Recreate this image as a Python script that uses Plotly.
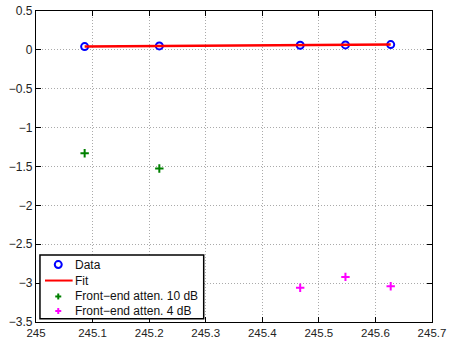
import plotly.graph_objects as go

# Measured frequencies (MHz) and responses (dB)
freq_data = [245.086, 245.218, 245.467, 245.547, 245.627]
resp_data = [0.042, 0.051, 0.059, 0.064, 0.068]

# Linear fit evaluated at the measured frequencies
fit_values = [0.044, 0.050, 0.061, 0.064, 0.068]

# Front-end attenuation sets
freq_att10 = [245.086, 245.218]
resp_att10 = [-1.33, -1.525]
freq_att4 = [245.467, 245.547, 245.627]
resp_att4 = [-3.06, -2.92, -3.04]

x_ticks = [245, 245.1, 245.2, 245.3, 245.4, 245.5, 245.6, 245.7]
y_ticks = [0.5, 0, -0.5, -1, -1.5, -2, -2.5, -3, -3.5]

series_names = ["Data", "Fit", "Front\u2212end atten. 10 dB", "Front\u2212end atten. 4 dB"]
GREEN = "#008000"
MAGENTA = "#FF00FF"
FONT = "Liberation Sans, Arial, sans-serif"

fig = go.Figure()
fig.add_trace(go.Scatter(
    x=freq_data, y=resp_data, mode="markers", name=series_names[0],
    marker=dict(symbol="circle-open", size=7, color="blue", line=dict(width=2, color="blue")),
))
fig.add_trace(go.Scatter(
    x=freq_data, y=fit_values, mode="lines", name=series_names[1],
    line=dict(color="red", width=2.5),
))
fig.add_trace(go.Scatter(
    x=freq_att10, y=resp_att10, mode="markers", name=series_names[2],
    marker=dict(symbol="cross-thin-open", size=6, color=GREEN, line=dict(width=2, color=GREEN)),
))
fig.add_trace(go.Scatter(
    x=freq_att4, y=resp_att4, mode="markers", name=series_names[3],
    marker=dict(symbol="cross-thin-open", size=6, color=MAGENTA, line=dict(width=2, color=MAGENTA)),
))

axis_common = dict(
    showline=True, linecolor="black", linewidth=1.3, mirror="ticks",
    ticks="inside", ticklen=5, tickcolor="black", automargin=False,
    showgrid=True, gridcolor="#aaaaaa", griddash="1px,2px", gridwidth=1,
    zeroline=False,
)

fig.update_xaxes(range=[245, 245.7], tickvals=x_ticks,
                 ticktext=[f"{v:g}" for v in x_ticks], ticklabelstandoff=0,
                 tickfont=dict(family=FONT, size=11.5, color="#222"), **axis_common)
fig.update_yaxes(range=[-3.5, 0.5], tickvals=y_ticks,
                 ticktext=[f"{v:g}".replace("-", "\u2212") for v in y_ticks], ticklabelstandoff=0,
                 tickfont=dict(family=FONT, size=12, color="#222"), **axis_common)

# Compact legend box in the lower-left corner (paper coordinates)
box = dict(x0=0.010, x1=0.4235, y0=0.0106, y1=0.2157)
row_y = [0.1846, 0.1333, 0.0821, 0.0353]
sym_x = 0.0562
text_x = 0.0925
shapes = [dict(type="rect", xref="paper", yref="paper", **box,
               line=dict(color="black", width=1.5), fillcolor="white", layer="above")]
# Data glyph: open circle
shapes.append(dict(type="circle", xref="paper", yref="paper",
                   x0=sym_x - 0.0088, x1=sym_x + 0.0088,
                   y0=row_y[0] - 0.0112, y1=row_y[0] + 0.0112,
                   line=dict(color="blue", width=2), layer="above"))
# Fit glyph: short line
shapes.append(dict(type="line", xref="paper", yref="paper",
                   x0=0.0227, x1=text_x, y0=row_y[1], y1=row_y[1],
                   line=dict(color="red", width=2), layer="above"))
# Plus glyphs for the attenuation sets
for ry, col in [(row_y[2], GREEN), (row_y[3], MAGENTA)]:
    shapes.append(dict(type="line", xref="paper", yref="paper",
                       x0=sym_x - 0.0076, x1=sym_x + 0.0076, y0=ry, y1=ry,
                       line=dict(color=col, width=2), layer="above"))
    shapes.append(dict(type="line", xref="paper", yref="paper",
                       x0=sym_x, x1=sym_x, y0=ry - 0.0096, y1=ry + 0.0096,
                       line=dict(color=col, width=2), layer="above"))

annotations = [
    dict(xref="paper", yref="paper", x=text_x, y=ry, text=name, showarrow=False,
         xanchor="left", yanchor="middle", font=dict(family=FONT, size=12, color="#111"))
    for name, ry in zip(series_names, row_y)
]

fig.update_layout(
    width=449, height=340, autosize=False,
    margin=dict(l=36, r=17, t=11, b=18),
    plot_bgcolor="white", paper_bgcolor="white",
    font=dict(family=FONT, size=12, color="#222"),
    showlegend=False,
    shapes=shapes,
    annotations=annotations,
)

fig.write_html("out.html")
